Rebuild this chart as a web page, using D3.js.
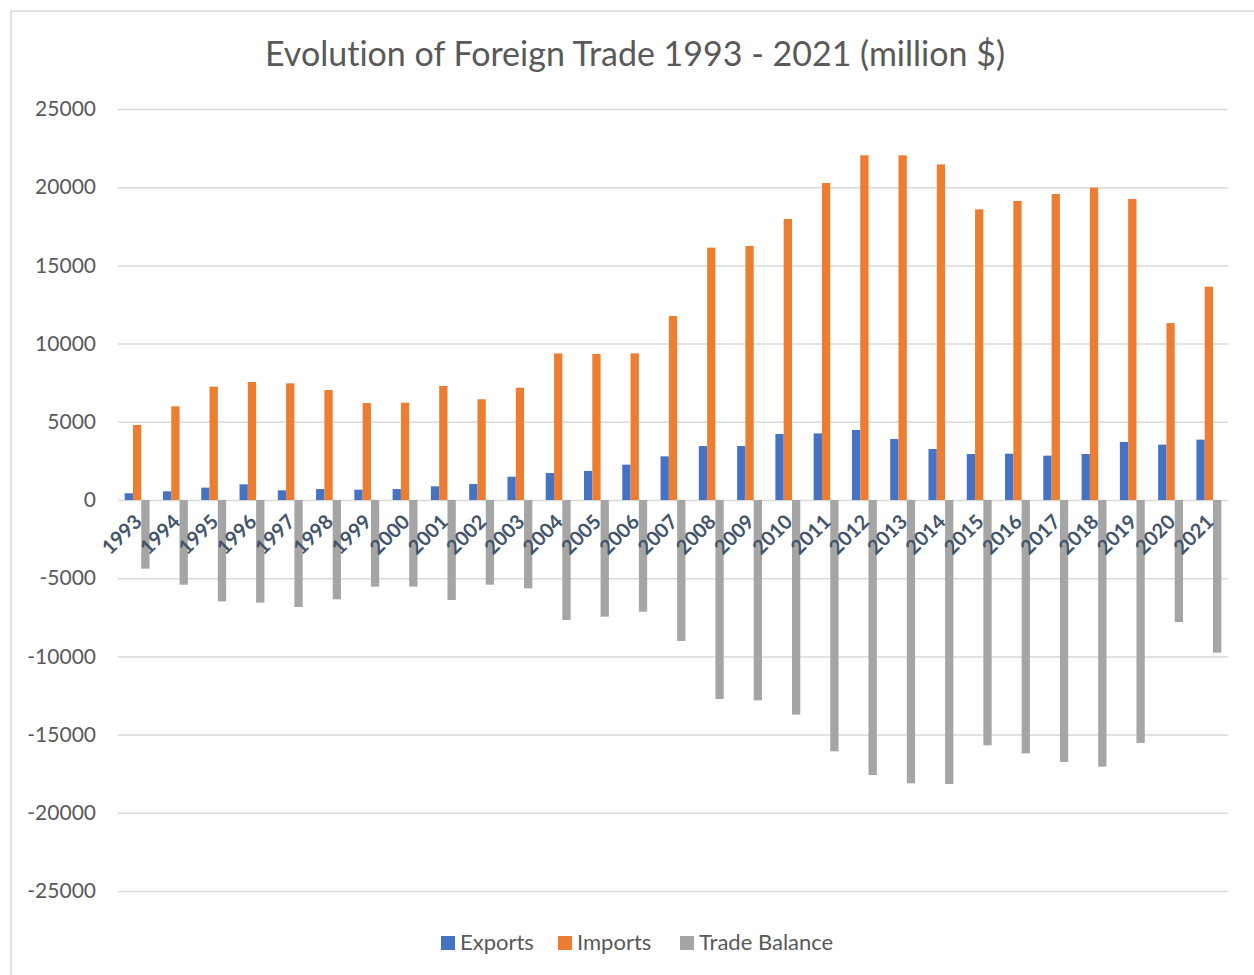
<!DOCTYPE html>
<html>
<head>
<meta charset="utf-8">
<script src="https://cdn.jsdelivr.net/npm/d3@7"></script>
<style>
  body { margin: 0; background: #fff; }
  svg { font-family: Lato, "Open Sans", sans-serif; font-variant-ligatures: none; }
</style>
</head>
<body>
<div id="chart"></div>
<script>
// Values (million $)
const years = ["1993","1994","1995","1996","1997","1998","1999","2000","2001","2002",
  "2003","2004","2005","2006","2007","2008","2009","2010","2011","2012",
  "2013","2014","2015","2016","2017","2018","2019","2020","2021"]
const exportsVals = [430,555,790,1000,620,700,660,700,875,1020,
  1490,1725,1855,2260,2790,3450,3450,4220,4260,4475,
  3900,3260,2940,2960,2835,2940,3710,3540,3860]
const importsVals = [4795,5990,7250,7545,7460,7030,6200,6225,7290,6440,
  7180,9375,9335,9375,11765,16135,16240,17970,20270,22040,
  22040,21460,18585,19120,19565,19970,19245,11315,13640]
const balanceVals = [-4390,-5415,-6480,-6565,-6840,-6350,-5540,-5540,-6395,-5415,
  -5650,-7670,-7460,-7140,-9015,-12725,-12810,-13725,-16070,-17585,
  -18115,-18160,-15685,-16200,-16750,-17050,-15535,-7800,-9760]
const seriesNames = ["Exports","Imports","Trade Balance"]
const seriesColors = ["#4472C4","#ED7D31","#A5A5A5"]
const yTicks = [-25000,-20000,-15000,-10000,-5000,0,5000,10000,15000,20000,25000]

const width = 1254
const height = 975
const margin = {left: 118, right: 26, top: 109, bottom: 84}

const svg = d3.select("#chart").append("svg")
  .attr("width", width)
  .attr("height", height)

// chart frame
svg.append("rect")
  .attr("x", 11).attr("y", 11)
  .attr("width", width + 20).attr("height", height + 20)
  .attr("fill", "none").attr("stroke", "#d9d9d9").attr("stroke-width", 1.5)

let x = d3.scaleBand()
  .domain(years)
  .range([margin.left, width - margin.right])
  .paddingInner(0.35)
  .paddingOuter(0.175)

let xSub = d3.scaleBand()
  .domain(seriesNames)
  .range([0, x.bandwidth()])

let y = d3.scaleLinear()
  .domain([-25000, 25000])
  .range([height - margin.bottom, margin.top])

// gridlines + y labels (plain hyphen for negatives, like the original)
const yAxis = d3.axisLeft(y)
  .tickValues(yTicks)
  .tickSize(-(width - margin.right - margin.left))
  .tickPadding(22)
  .tickFormat(d => String(d))

svg.append("g")
  .attr("transform", `translate(${margin.left},0)`)
  .call(yAxis)
  .call(g => g.select(".domain").remove())
  .call(g => g.selectAll(".tick line").attr("stroke", "#d9d9d9").attr("stroke-width", 1.5))
  .call(g => g.selectAll(".tick text")
    .attr("fill", "#595959")
    .attr("font-size", 21)
    .attr("font-family", "Lato, sans-serif"))

// bars
const table = years.map((yr, i) => ({
  year: yr,
  values: [exportsVals[i], importsVals[i], balanceVals[i]]
}))

const groups = svg.append("g")
  .selectAll("g")
  .data(table)
  .enter()
  .append("g")
  .attr("transform", d => `translate(${x(d.year)},0)`)

groups.selectAll("rect")
  .data(d => d.values.map((v, k) => ({name: seriesNames[k], value: v, k: k})))
  .enter()
  .append("rect")
  .attr("x", d => xSub(d.name))
  .attr("width", xSub.bandwidth())
  .attr("y", d => y(Math.max(0, d.value)))
  .attr("height", d => Math.abs(y(d.value) - y(0)))
  .attr("fill", d => seriesColors[d.k])

// category labels, rotated, just below zero line
svg.append("g")
  .selectAll("text")
  .data(years)
  .enter()
  .append("text")
  .attr("transform", d => `translate(${x(d) + x.bandwidth() / 2 + 6},${y(0) + 23}) rotate(-45)`)
  .attr("text-anchor", "end")
  .attr("fill", "#44546A")
  .attr("font-weight", "bold")
  .attr("font-size", 20)
  .text(d => d)

// title
svg.append("text")
  .attr("x", width / 2 + 8)
  .attr("y", 66)
  .attr("text-anchor", "middle")
  .attr("fill", "#595959")
  .attr("font-size", 34)
  .text("Evolution of Foreign Trade 1993 - 2021 (million $)")

// legend
const legendX = [441, 558, 680]
const legend = svg.append("g")
  .selectAll("g")
  .data(seriesNames)
  .enter()
  .append("g")
  .attr("transform", (d, i) => `translate(${legendX[i]},936)`)

legend.append("rect")
  .attr("width", 14).attr("height", 14)
  .attr("fill", (d, i) => seriesColors[i])

legend.append("text")
  .attr("x", 19)
  .attr("y", 14)
  .attr("fill", "#595959")
  .attr("font-size", 22)
  .text(d => d)
</script>
</body>
</html>
